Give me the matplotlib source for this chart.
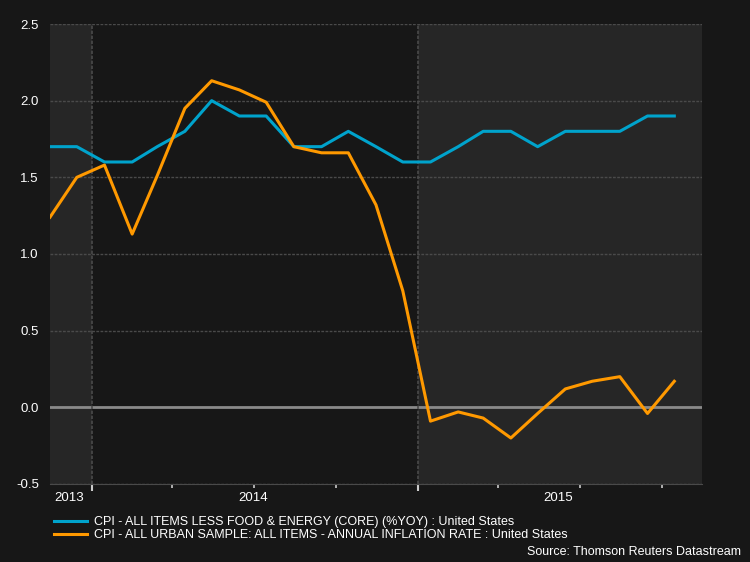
import datetime as dt
import matplotlib
matplotlib.use("Agg")
import matplotlib.pyplot as plt
import matplotlib.dates as mdates

# monthly values, Nov 2013 .. Oct 2015 (plotted mid-month)
months = [dt.date(2013 + (10 + i) // 12, (10 + i) % 12 + 1, 15) for i in range(24)]
core = [1.7, 1.7, 1.6, 1.6, 1.7, 1.8, 2.0, 1.9, 1.9, 1.7, 1.7, 1.8,
        1.7, 1.6, 1.6, 1.7, 1.8, 1.8, 1.7, 1.8, 1.8, 1.8, 1.9, 1.9]
headline = [1.24, 1.50, 1.58, 1.13, 1.51, 1.95, 2.13, 2.07, 1.99, 1.70, 1.66, 1.66,
            1.32, 0.76, -0.09, -0.03, -0.07, -0.20, -0.04, 0.12, 0.17, 0.20, -0.04, 0.17]
core_label = "CPI - ALL ITEMS LESS FOOD & ENERGY (CORE) (%YOY) : United States"
headline_label = "CPI - ALL URBAN SAMPLE: ALL ITEMS - ANNUAL INFLATION RATE : United States"
years = [2013, 2014, 2015]
yticks = [-0.5, 0.0, 0.5, 1.0, 1.5, 2.0, 2.5]

bg = "#171717"
shade = "#262626"
x0, x1 = dt.date(2013, 11, 15), dt.date(2015, 11, 15)

plt.rcParams["font.family"] = ["Liberation Sans", "DejaVu Sans"]
fig = plt.figure(figsize=(7.5, 5.62), dpi=100, facecolor=bg)
ax = fig.add_axes([50 / 750, 78 / 562, 652 / 750, 460 / 562])
ax.set_facecolor(bg)

# alternate year shading
for i, yr in enumerate(years):
    a = max(dt.date(yr, 1, 1), x0)
    b = min(dt.date(yr + 1, 1, 1), x1)
    if i % 2 == 0:
        ax.axvspan(a, b, color=shade, lw=0, zorder=0)

for v in yticks:
    if v == 0:
        ax.axhline(v, color="#8a8a8a", lw=2, zorder=1)
    else:
        ax.axhline(v, color="#4a4a4a", lw=1, ls=(0, (2, 1)), zorder=1)
for yr in years[1:]:
    ax.axvline(dt.date(yr, 1, 1), color="#4a4a4a", lw=1.2, ls=(0, (2, 1)), zorder=1)

ax.plot(months, core, color="#00a3cc", lw=2.2, label=core_label, zorder=3)
ax.plot(months, headline, color="#ff9900", lw=2.2, label=headline_label, zorder=3)

ax.set_xlim(x0, x1)
ax.set_ylim(-0.5, 2.5)
ax.set_yticks(yticks)
ax.set_yticklabels([f"{v:.1f}" for v in yticks])
ax.tick_params(axis="y", length=0, pad=8, labelsize=9.5, labelcolor="white")

ax.xaxis.set_major_locator(mdates.YearLocator())
ax.xaxis.set_major_formatter(plt.NullFormatter())
ax.xaxis.set_minor_locator(mdates.MonthLocator(bymonth=[4, 7, 10]))
ax.tick_params(axis="x", which="major", length=5, width=1.5, color="#cccccc")
ax.tick_params(axis="x", which="minor", length=3, width=1.2, color="#cccccc")

# year labels centred in each visible year span
for yr in years:
    a = max(mdates.date2num(dt.date(yr, 1, 1)), mdates.date2num(x0))
    b = min(mdates.date2num(dt.date(yr + 1, 1, 1)), mdates.date2num(x1))
    ax.annotate(str(yr), xy=((a + b) / 2, 0), xycoords=("data", "axes fraction"),
                xytext=(-1, -6), textcoords="offset points", ha="center", va="top",
                color="white", fontsize=9.5)

for s in ax.spines.values():
    s.set_visible(False)
ax.spines["bottom"].set_visible(True)
ax.spines["bottom"].set_color("#4a4a4a")
ax.spines["bottom"].set_linestyle((0, (1, 1)))

fig.legend(loc="upper left", bbox_to_anchor=(48 / 750, 1 - 510 / 562), frameon=False,
           fontsize=9, labelcolor="white", handlelength=2.6, handletextpad=0.6,
           labelspacing=0.05, borderpad=0)
fig.text(741 / 750, 1 - 552 / 562, "Source: Thomson Reuters Datastream", ha="right",
         va="center", color="white", fontsize=9)

fig.savefig("out.png", facecolor=bg)
